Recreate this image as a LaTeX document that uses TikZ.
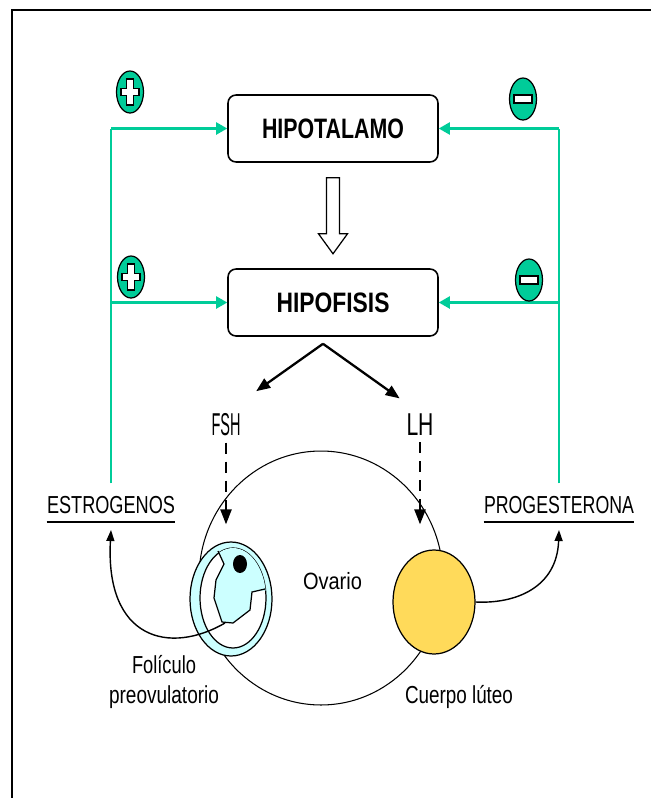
\documentclass[tikz,border=0pt]{standalone}
\usepackage{fontspec}
\setmainfont{Liberation Sans}
\usepackage{graphicx}
\usetikzlibrary{arrows.meta,shapes.geometric}

\definecolor{fbgreen}{RGB}{0,204,153}
\definecolor{follcyan}{RGB}{204,255,255}
\definecolor{lutyellow}{RGB}{255,218,90}
% squeeze a label to a given width, keeping its height
\newcommand{\narrow}[2]{\resizebox{#1}{\height}{#2}}

\begin{document}
\begin{tikzpicture}[
	x=0.02cm, y=-0.02cm,
	hbox/.style={draw,rounded corners=0.16cm,line width=0.9pt,minimum width=4.2cm,minimum height=1.34cm,font=\bfseries\fontsize{16}{18}\selectfont},
	hlbl/.style={inner sep=0pt,font=\fontsize{14}{17.6}\selectfont},
	fbline/.style={draw=fbgreen,line width=1.2pt},
	fbarrow/.style={fbline,-{Triangle[length=0.22cm,width=0.24cm]}},
	badge/.style={ellipse,draw,fill=fbgreen,line width=0.7pt,minimum width=0.54cm,minimum height=0.84cm,inner sep=0pt},
	plusbadge/.style={badge,path picture={
		\draw[fill=white,line width=0.6pt,shift={(path picture bounding box.center)}]
			(-3.5,-13) -- (3.5,-13) -- (3.5,-3.5) -- (9,-3.5) -- (9,3.5) -- (3.5,3.5) -- (3.5,13)
			-- (-3.5,13) -- (-3.5,3.5) -- (-9,3.5) -- (-9,-3.5) -- (-3.5,-3.5) -- cycle;}},
	minusbadge/.style={badge,path picture={
		\draw[fill=white,line width=0.6pt,shift={(path picture bounding box.center)}]
			(-9,-4) rectangle (9,4);}},
	hollow/.style={draw,line width=0.7pt,fill=white},
	blkarrow/.style={line width=1.3pt,-{Triangle[length=0.28cm,width=0.22cm]}},
	dsharrow/.style={line width=1.4pt,dash pattern=on 0.22cm off 0.16cm,-{Triangle[length=0.3cm,width=0.22cm]}},
	curvarrow/.style={line width=0.8pt,-{Triangle[length=0.22cm,width=0.16cm]}},
	uline/.style={line width=1.1pt}
	]
	\useasboundingbox (0,0) rectangle (651,798);
	% frame
	\draw[line width=1.7pt] (12,798) -- (12,10) -- (651,10);

	% glands
	\node[hbox] (hipotalamo) at (333,128.5) {\narrow{2.84cm}{HIPOTALAMO}};
	\node[hbox] (hipofisis) at (333,302.5) {\narrow{2.26cm}{HIPOFISIS}};

	% hormones
	\node[hlbl,anchor=base] (estrogenos) at (111,513) {\narrow{2.56cm}{ESTROGENOS}};
	\node[hlbl,anchor=base] (progesterona) at (559,513) {\narrow{3.0cm}{PROGESTERONA}};
	\draw[uline] ([yshift=-0.18cm]estrogenos.base west) -- ([yshift=-0.18cm]estrogenos.base east);
	\draw[uline] ([yshift=-0.18cm]progesterona.base west) -- ([yshift=-0.18cm]progesterona.base east);
	\node[hlbl,font=\fontsize{18}{20}\selectfont,anchor=base] (fsh) at (226,435) {\narrow{0.58cm}{FSH}};
	\node[hlbl,font=\fontsize{18}{20}\selectfont,anchor=base] (lh) at (420,435) {\narrow{0.54cm}{LH}};

	% feedback loops
	\coordinate (eTop) at ([yshift=0.24cm]estrogenos.north);
	\coordinate (pTop) at ([yshift=0.24cm]progesterona.north);
	\draw[fbline] (eTop) -- (eTop |- hipotalamo.west);
	\draw[fbline] (pTop) -- (pTop |- hipotalamo.east);
	\foreach \t in {hipotalamo,hipofisis}{
		\draw[fbarrow] (eTop |- \t.west) -- (\t.west);
		\draw[fbarrow] (pTop |- \t.east) -- (\t.east);
	}
	\foreach \nm/\x/\y in {plusA/130/92,plusB/131/277}{
		\node[plusbadge] (\nm) at (\x,\y) {};
	}
	\foreach \nm/\x/\y in {minusA/523/99,minusB/529/280}{
		\node[minusbadge] (\nm) at (\x,\y) {};
	}

	% hipotalamo -> hipofisis
	\draw[hollow] ([shift={(-6.5,15)}]hipotalamo.south) -- ++(0,56) -- ++(-8,0) -- ++(14.5,20)
		-- ++(14.5,-20) -- ++(-8,0) -- ++(0,-56) -- cycle;

	% hipofisis -> FSH / LH
	\coordinate (split) at ([shift={(-0.2cm,-0.14cm)}]hipofisis.south);
	\draw[blkarrow,shorten >=0.74cm] (split) -- (fsh.north);
	\draw[blkarrow,shorten >=0.5cm] (split) -- (lh.north);

	% ovary
	\node[ellipse,draw,line width=0.6pt,minimum width=4.88cm,minimum height=5.08cm,inner sep=0pt] (ovario) at (321,578) {};
	\node[hlbl,font=\fontsize{13.4}{16}\selectfont,anchor=base] (ovtxt) at (332.5,589) {\narrow{1.18cm}{Ovario}};

	% follicle
	\node[ellipse,draw,fill=follcyan,line width=0.7pt,minimum width=1.64cm,minimum height=2.28cm,inner sep=0pt] (foliculo) at (231,599) {};
	\draw[fill=white,line width=0.7pt] (233,598) ellipse [x radius=0.66cm,y radius=1cm];
	\begin{scope}
		\clip (233,598) ellipse [x radius=0.66cm,y radius=1cm];
		\fill[follcyan] (218,540) -- (218,551) -- (224,564) -- (216,580) -- (214,598) -- (222,622) -- (233,623)
			-- (250,610) -- (252,592) -- (280,589) -- (280,540) -- cycle;
	\end{scope}
	\draw[line width=0.7pt] (218,551) -- (224,564) -- (216,580) -- (214,598) -- (222,622) -- (233,623)
		-- (250,610) -- (252,592) -- (265,589);
	\fill (240,564) ellipse [x radius=0.14cm,y radius=0.18cm];
	\node[hlbl,align=center,anchor=center] (foltxt) at (164,682) {\narrow{1.28cm}{Folículo}\\\narrow{2.2cm}{preovulatorio}};

	% corpus luteum
	\node[ellipse,draw,fill=lutyellow,line width=0.7pt,minimum width=1.64cm,minimum height=2.08cm,inner sep=0pt] (cuerpo) at (434,602) {};
	\node[hlbl,anchor=base] (cuerpotxt) at (459,703) {\narrow{2.16cm}{Cuerpo lúteo}};

	% FSH / LH on the ovary
	\draw[dsharrow,shorten <=0.14cm,shorten >=0.34cm] (fsh.south) -- (fsh.south |- foliculo.north);
	\draw[dsharrow,shorten <=0.14cm,shorten >=0.5cm] (lh.south) -- (lh.south |- cuerpo.north);

	% secretion
	\draw[curvarrow] ([shift={(-6,24)}]foliculo.center) .. controls (170,655) and (105,640) .. ([yshift=-0.34cm]estrogenos.base);
	\draw[curvarrow] (cuerpo.east) .. controls (515,604) and (557,588) .. ([yshift=-0.34cm]progesterona.base);
\end{tikzpicture}
\end{document}
